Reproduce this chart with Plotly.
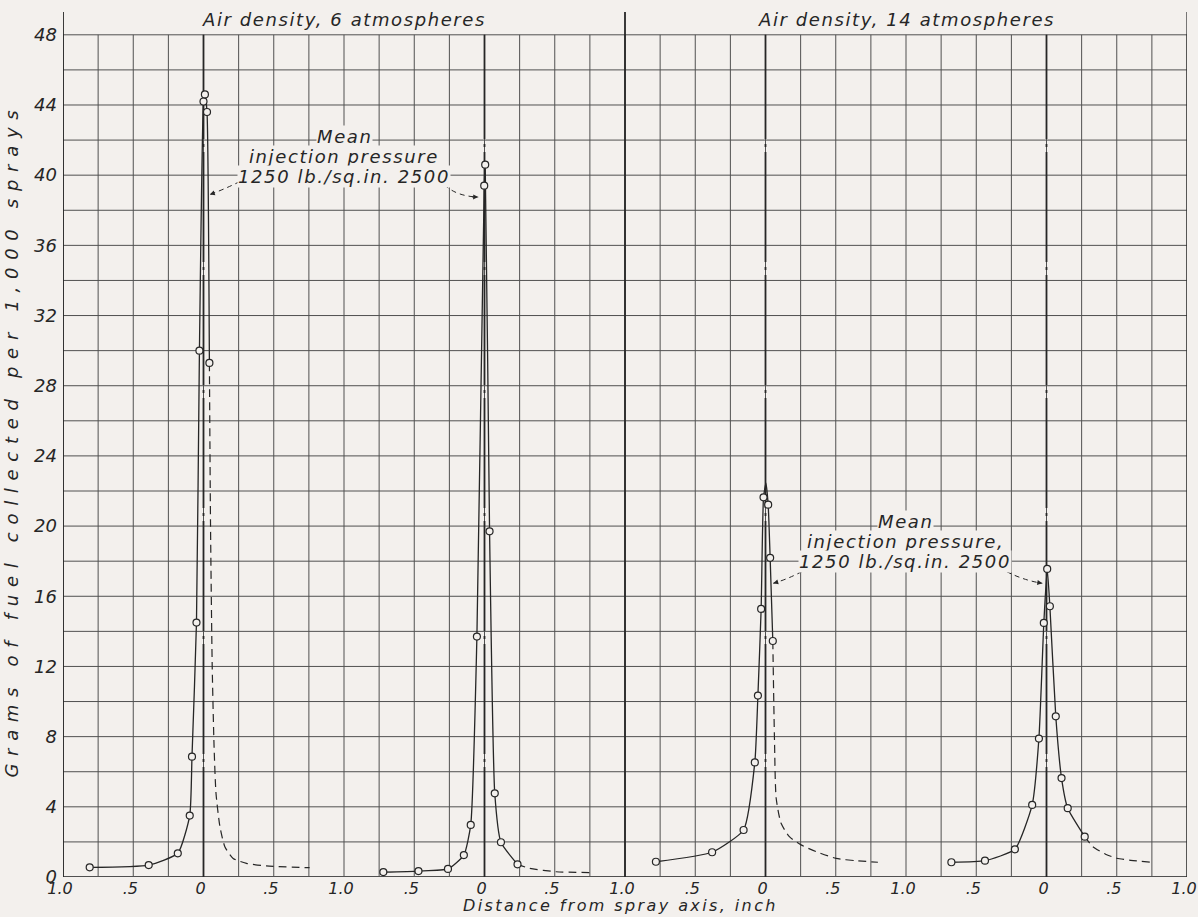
import numpy as np
import plotly.graph_objects as go

# ---------------- data ----------------
panel_centers = [1.0, 3.0, 5.0, 7.0]   # spray axis of each panel on the shared x scale

# Panel 1: air density 6 atm, 1250 lb/sq.in.
p1_pts_d = [-0.81, -0.39, -0.183, -0.098, -0.082, -0.05, -0.029, 0.0, 0.01, 0.025, 0.042]
p1_pts_v = [0.55, 0.68, 1.35, 3.5, 6.86, 14.5, 30.0, 44.2, 44.6, 43.6, 29.3]
p1_dash_d = [0.042, 0.05, 0.062, 0.075, 0.089, 0.117, 0.152, 0.211, 0.306, 0.447, 0.755]
p1_dash_v = [29.3, 20.0, 12.0, 7.5, 4.77, 2.87, 1.73, 1.06, 0.78, 0.63, 0.53]

# Panel 2: air density 6 atm, 2500 lb/sq.in.
p2_pts_d = [-0.72, -0.47, -0.26, -0.147, -0.098, -0.054, -0.002, 0.005, 0.036, 0.073, 0.117, 0.235]
p2_pts_v = [0.28, 0.34, 0.46, 1.25, 2.97, 13.7, 39.4, 40.6, 19.7, 4.77, 1.98, 0.72]
p2_dash_d = [0.235, 0.32, 0.51, 0.78]
p2_dash_v = [0.72, 0.5, 0.3, 0.25]

# Panel 3: air density 14 atm, 1250 lb/sq.in.
p3_pts_d = [-0.78, -0.38, -0.156, -0.076, -0.054, -0.031, -0.014, 0.019, 0.033, 0.052]
p3_pts_v = [0.87, 1.41, 2.68, 6.53, 10.34, 15.28, 21.64, 21.22, 18.19, 13.45]
p3_peak_d = [0.003]
p3_peak_v = [22.45]
p3_dash_d = [0.052, 0.064, 0.076, 0.111, 0.17, 0.253, 0.36, 0.502, 0.644, 0.8]
p3_dash_v = [13.45, 7.8, 4.49, 3.06, 2.3, 1.83, 1.45, 1.06, 0.93, 0.84]

# Panel 4: air density 14 atm, 2500 lb/sq.in.
p4_pts_d = [-0.677, -0.438, -0.225, -0.102, -0.054, -0.019, 0.005, 0.024, 0.066, 0.107, 0.151, 0.272]
p4_pts_v = [0.84, 0.93, 1.58, 4.11, 7.89, 14.48, 17.56, 15.43, 9.16, 5.64, 3.92, 2.3]
p4_dash_d = [0.272, 0.33, 0.42, 0.5, 0.6, 0.746]
p4_dash_v = [2.3, 1.73, 1.3, 1.07, 0.95, 0.84]

x_tick_vals = [0.0, 0.5, 1.0, 1.5, 2.0, 2.5, 3.0, 3.5, 4.0, 4.5, 5.0, 5.5, 6.0, 6.5, 7.0, 7.5, 8.0]
x_tick_labels = ["1.0", ".5", "0", ".5", "1.0", ".5", "0", ".5", "1.0",
                 ".5", "0", ".5", "1.0", ".5", "0", ".5", "1.0"]
y_tick_vals = [0, 4, 8, 12, 16, 20, 24, 28, 32, 36, 40, 44, 48]
y_tick_labels = ["0", "4", "8", "12", "16", "20", "24", "28", "32", "36", "40", "44", "48"]

header_texts = ["Air density, 6 atmospheres", "Air density, 14 atmospheres"]
note_lines = ["Mean", "injection pressure", "1250 lb./sq.in. 2500"]
note_lines_b = ["Mean", "injection pressure,", "1250 lb./sq.in. 2500"]
y_title = "Grams of fuel collected per 1,000 sprays"
x_title = "Distance from spray axis, inch"

# ---------------- styling ----------------
PAPER = "#f3f0ed"
INK = "#262626"
GRID = "#505050"
FONT = "DejaVu Sans"
Y_TOP = 49.3


def lettered(txt, spacing):
    return f"<i><span style='letter-spacing:{spacing}px'>{txt}</span></i>"


fig = go.Figure()


def add_panel(center, pts_d, pts_v, dash_d, dash_v, extra_d=None, extra_v=None):
    px = [center + d for d in pts_d]
    line_d = list(pts_d)
    line_v = list(pts_v)
    if extra_d:
        for d, v in zip(extra_d, extra_v):
            idx = int(np.searchsorted(np.array(line_d), d))
            line_d.insert(idx, d)
            line_v.insert(idx, v)
    fig.add_trace(go.Scatter(x=[center + d for d in line_d], y=line_v, mode="lines",
                             line=dict(color=INK, width=1.3, shape="spline", smoothing=0.5),
                             hoverinfo="skip", showlegend=False))
    fig.add_trace(go.Scatter(x=[center + d for d in dash_d], y=dash_v, mode="lines",
                             line=dict(color=INK, width=1.2, dash="8px,5px", shape="spline",
                                       smoothing=0.6),
                             hoverinfo="skip", showlegend=False))
    fig.add_trace(go.Scatter(x=px, y=pts_v, mode="markers",
                             marker=dict(symbol="circle", size=7, color=PAPER,
                                         line=dict(color=INK, width=1.2)),
                             showlegend=False))


add_panel(panel_centers[0], p1_pts_d, p1_pts_v, p1_dash_d, p1_dash_v)
add_panel(panel_centers[1], p2_pts_d, p2_pts_v, p2_dash_d, p2_dash_v)
add_panel(panel_centers[2], p3_pts_d, p3_pts_v, p3_dash_d, p3_dash_v, p3_peak_d, p3_peak_v)
add_panel(panel_centers[3], p4_pts_d, p4_pts_v, p4_dash_d, p4_dash_v)

shapes = []
# horizontal grid
for v in range(0, 49, 2):
    shapes.append(dict(type="line", xref="x", yref="y", x0=0, x1=8, y0=v, y1=v,
                       line=dict(color=GRID, width=1 if v else 1.8), layer="below"))
# vertical grid
for xv in np.arange(0, 8.001, 0.25):
    shapes.append(dict(type="line", xref="x", yref="y", x0=xv, x1=xv, y0=0, y1=48,
                       line=dict(color=GRID, width=1), layer="below"))
# frame lines reaching up into header band
for xv, w in [(0, 1.8), (4, 1.8), (8, 1.2)]:
    shapes.append(dict(type="line", xref="x", yref="y", x0=xv, x1=xv, y0=0, y1=Y_TOP,
                       line=dict(color=INK, width=w), layer="below"))
# spray-axis center lines
for c in panel_centers:
    shapes.append(dict(type="line", xref="x", yref="y", x0=c, x1=c, y0=0, y1=48,
                       line=dict(color=INK, width=1.8, dash="110px,5px,3px,5px"), layer="below"))

# dashed leaders
leaders = [
    ((1.259, 39.64), (1.15, 39.2), (1.045, 38.9)),
    ((2.715, 39.45), (2.80, 38.8), (2.955, 38.75)),
    ((5.26, 17.41), (5.15, 16.95), (5.055, 16.74)),
    ((6.715, 17.41), (6.84, 16.9), (6.97, 16.74)),
]
for (a, c, b) in leaders:
    shapes.append(dict(type="path", xref="x", yref="y",
                       path=f"M {a[0]},{a[1]} Q {c[0]},{c[1]} {b[0]},{b[1]}",
                       line=dict(color=INK, width=1, dash="5px,4px")))

annotations = []
for (a, c, b) in leaders:
    dx = b[0] - c[0]
    dy = b[1] - c[1]
    annotations.append(dict(x=b[0], y=b[1], ax=b[0] - dx * 0.35, ay=b[1] - dy * 0.35,
                            xref="x", yref="y", axref="x", ayref="y", text="",
                            showarrow=True, arrowhead=2, arrowsize=1, arrowwidth=1,
                            arrowcolor=INK))

# headers
for txt, xc in zip(header_texts, [2.0, 6.0]):
    annotations.append(dict(x=xc, y=48.86, xref="x", yref="y", text=lettered(txt, 1.6),
                            showarrow=False, font=dict(family=FONT, size=18, color=INK)))

# notes
for lines, xc, ys in [(note_lines, 2.0, [42.19, 41.05, 39.9]),
                      (note_lines_b, 5.995, [20.26, 19.12, 17.98])]:
    for txt, yv in zip(lines, ys):
        annotations.append(dict(x=xc, y=yv, xref="x", yref="y", text=lettered(txt, 1.6),
                                showarrow=False, bgcolor=PAPER, borderpad=0,
                                font=dict(family=FONT, size=18, color=INK)))

# axis titles
annotations.append(dict(x=-0.057, y=0.505, xref="paper", yref="paper", textangle=-90,
                        text=lettered(y_title, 7.7),
                        showarrow=False, font=dict(family=FONT, size=18, color=INK)))
annotations.append(dict(x=0.496, y=-0.0335, xref="paper", yref="paper", yanchor="middle",
                        text=lettered(x_title, 2.4), showarrow=False,
                        font=dict(family=FONT, size=16, color=INK)))

fig.update_layout(
    width=1198, height=917,
    margin=dict(l=63, r=11, t=12, b=40),
    paper_bgcolor=PAPER, plot_bgcolor=PAPER,
    shapes=shapes, annotations=annotations,
    showlegend=False,
    xaxis=dict(range=[0, 8], showgrid=False, zeroline=False, showline=False,
               tickmode="array", tickvals=x_tick_vals,
               ticktext=[f"<i>{t}</i>" for t in x_tick_labels],
               ticks="", ticklabelstandoff=0, ticklabelshift=-3, automargin=False,
               ticklabeloverflow="allow",
               tickfont=dict(family=FONT, size=16, color=INK)),
    yaxis=dict(range=[0, Y_TOP], showgrid=False, zeroline=False, showline=False,
               tickmode="array", tickvals=y_tick_vals,
               ticktext=[f"<i>{t}</i>" for t in y_tick_labels],
               ticks="", ticklabelstandoff=5, automargin=False,
               ticklabeloverflow="allow",
               tickfont=dict(family=FONT, size=18, color=INK)),
)

fig.write_html("out.html", config={"displayModeBar": False},
               post_script="document.body.style.margin='0px';"
                           "document.body.style.backgroundColor='#f3f0ed';")
